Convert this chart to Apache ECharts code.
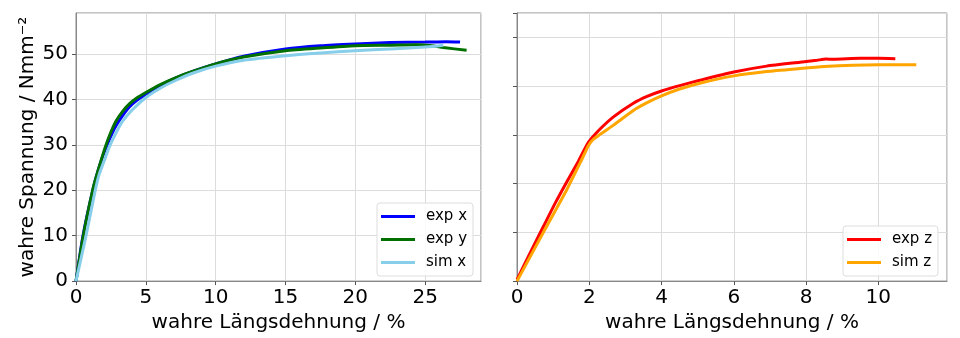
<!DOCTYPE html>
<html>
<head>
<meta charset="utf-8">
<script src="https://cdn.jsdelivr.net/npm/echarts@6/dist/echarts.min.js"></script>
<style>html,body{margin:0;padding:0;background:#fff}#c{width:960px;height:338px}</style>
</head>
<body>
<div id="c"></div>
<script>
// ---- data (x: wahre Längsdehnung %, y: wahre Spannung N/mm^2) ----
var expX = [[0,0],[0.5,10],[1.2,20],[1.6,24.5],[2.1,29],[2.74,33.5],[3.2,35.8],[3.82,38.3],[4.4,39.9],[5,41.1],[6,43.0],[7.16,44.7],[8.5,46.3],[10,47.8],[12,49.5],[15,51.1],[17.5,51.8],[20,52.2],[22.5,52.5],[25,52.6],[26.5,52.7],[27.5,52.6]];
var expY = [[0,0],[0.52,10],[1.19,20],[1.55,24],[2.1,29.5],[2.5,32.8],[2.86,35.2],[3.3,37.2],[3.82,39.0],[4.4,40.4],[5,41.5],[6,43.2],[7.16,44.8],[8.5,46.3],[10,47.8],[12,49.3],[15,50.7],[17.5,51.3],[20,51.8],[22.5,51.9],[24.4,52.0],[25.5,51.8],[26.3,51.4],[27.97,50.8]];
var simX = [[0,0],[0.72,10],[1.38,20],[1.67,23.6],[2.0,26.3],[2.38,29.5],[2.98,33.3],[3.34,35.2],[4,37.6],[5,40.4],[6,42.4],[7.16,44.2],[8.5,45.9],[10,47.3],[12,48.6],[15,49.6],[17.5,50.2],[20,50.7],[22.5,51.1],[25,51.5],[26.3,51.9]];
var expZ = [[0,0.3],[0.35,5.6],[0.73,11.2],[1.05,15.9],[1.38,20.4],[1.7,24.6],[1.98,28.5],[2.3,31.2],[2.67,33.7],[3.22,36.5],[3.6,37.9],[4,39],[4.5,40.1],[5.06,41.2],[6,42.9],[6.91,44.1],[7.83,44.9],[8.3,45.3],[8.55,45.55],[8.75,45.5],[9.5,45.7],[10,45.7],[10.47,45.6]];
var simZ = [[0,0],[0.73,10.0],[1.38,18.8],[1.75,24.3],[1.98,27.8],[2.1,29.0],[2.3,30.1],[2.67,32.0],[3.22,35.0],[3.6,36.6],[4,38.0],[4.5,39.4],[5.06,40.6],[6,42.1],[6.91,43.0],[7.83,43.6],[8.5,44.0],[9.3,44.3],[10,44.4],[11.05,44.4]];
var namesLeft = ['exp x','exp y','sim x'];
var namesRight = ['exp z','sim z'];
var xTitle = 'wahre Längsdehnung / %';
var yTitle = 'wahre Spannung / Nmm⁻²';

var FONT = 'DejaVu Sans';
var chart = echarts.init(document.getElementById('c'), null, {renderer:'canvas'});

function xAx(idx, max, interval){
  return {
    type:'value', gridIndex:idx, min:0, max:max, interval:interval,
    name: xTitle, nameLocation:'middle', nameGap:30,
    nameTextStyle:{fontFamily:FONT, fontSize:20, color:'#000'},
    axisLine:{show:true, lineStyle:{color:'#888', width:1}},
    axisTick:{show:true, length:4, lineStyle:{color:'#555'}},
    axisLabel:{show:true, fontFamily:FONT, fontSize:20, color:'#000', margin:7,
      showMaxLabel:false},
    splitLine:{show:true, lineStyle:{color:'#dcdcdc', width:1}}
  };
}
function yAx(idx, max, showLabels){
  var a = {
    type:'value', gridIndex:idx, min:0, max:max, interval:10,
    axisLine:{show:true, lineStyle:{color:'#888', width:1}},
    axisTick:{show:true, length:4, lineStyle:{color:'#555'}},
    axisLabel:{show:showLabels, fontFamily:FONT, fontSize:20, color:'#000', margin:8, showMaxLabel:false},
    splitLine:{show:true, lineStyle:{color:'#dcdcdc', width:1}}
  };
  if (showLabels){
    a.name = yTitle; a.nameLocation='middle'; a.nameGap=38; a.nameRotate=90;
    a.nameTextStyle = {fontFamily:FONT, fontSize:20, color:'#000'};
  }
  return a;
}
function ser(name, data, color, xi, yi, z){
  return {type:'line', name:name, data:data, xAxisIndex:xi, yAxisIndex:yi,
    showSymbol:false, symbol:'none', smooth:0.2, z:z,
    lineStyle:{color:color, width:3}, itemStyle:{color:color}};
}
function leg(names, left, top){
  return {
    data: names.map(function(n){return {name:n, icon:'rect'};}),
    orient:'vertical', left:left, top:top,
    itemWidth:34, itemHeight:3, itemGap:8,
    padding:[6,6,6,4],
    backgroundColor:'rgba(255,255,255,0.85)', borderColor:'#dddddd', borderWidth:1, borderRadius:3,
    textStyle:{fontFamily:FONT, fontSize:15, color:'#000', padding:[0,0,0,6]},
    selectedMode:false
  };
}
chart.setOption({
  animation:false,
  backgroundColor:'#fff',
  grid:[
    {left:76, top:13, width:405, height:270, show:true, borderColor:'#888', borderWidth:1, backgroundColor:'transparent'},
    {left:517, top:13, width:430, height:270, show:true, borderColor:'#888', borderWidth:1, backgroundColor:'transparent'}
  ],
  xAxis:[xAx(0, 29, 5), xAx(1, 11.9, 2)],
  yAxis:[yAx(0, 59, true), yAx(1, 55, false)],
  legend:[leg(namesLeft, 377, 203), leg(namesRight, 843, 226)],
  series:[
    ser(namesLeft[0], expX, '#0000ff', 0, 0, 2),
    ser(namesLeft[1], expY, '#007000', 0, 0, 3),
    ser(namesLeft[2], simX, '#87ceeb', 0, 0, 4),
    ser(namesRight[0], expZ, '#ff0000', 1, 1, 2),
    ser(namesRight[1], simZ, '#ffa500', 1, 1, 3)
  ]
});
</script>
</body>
</html>
